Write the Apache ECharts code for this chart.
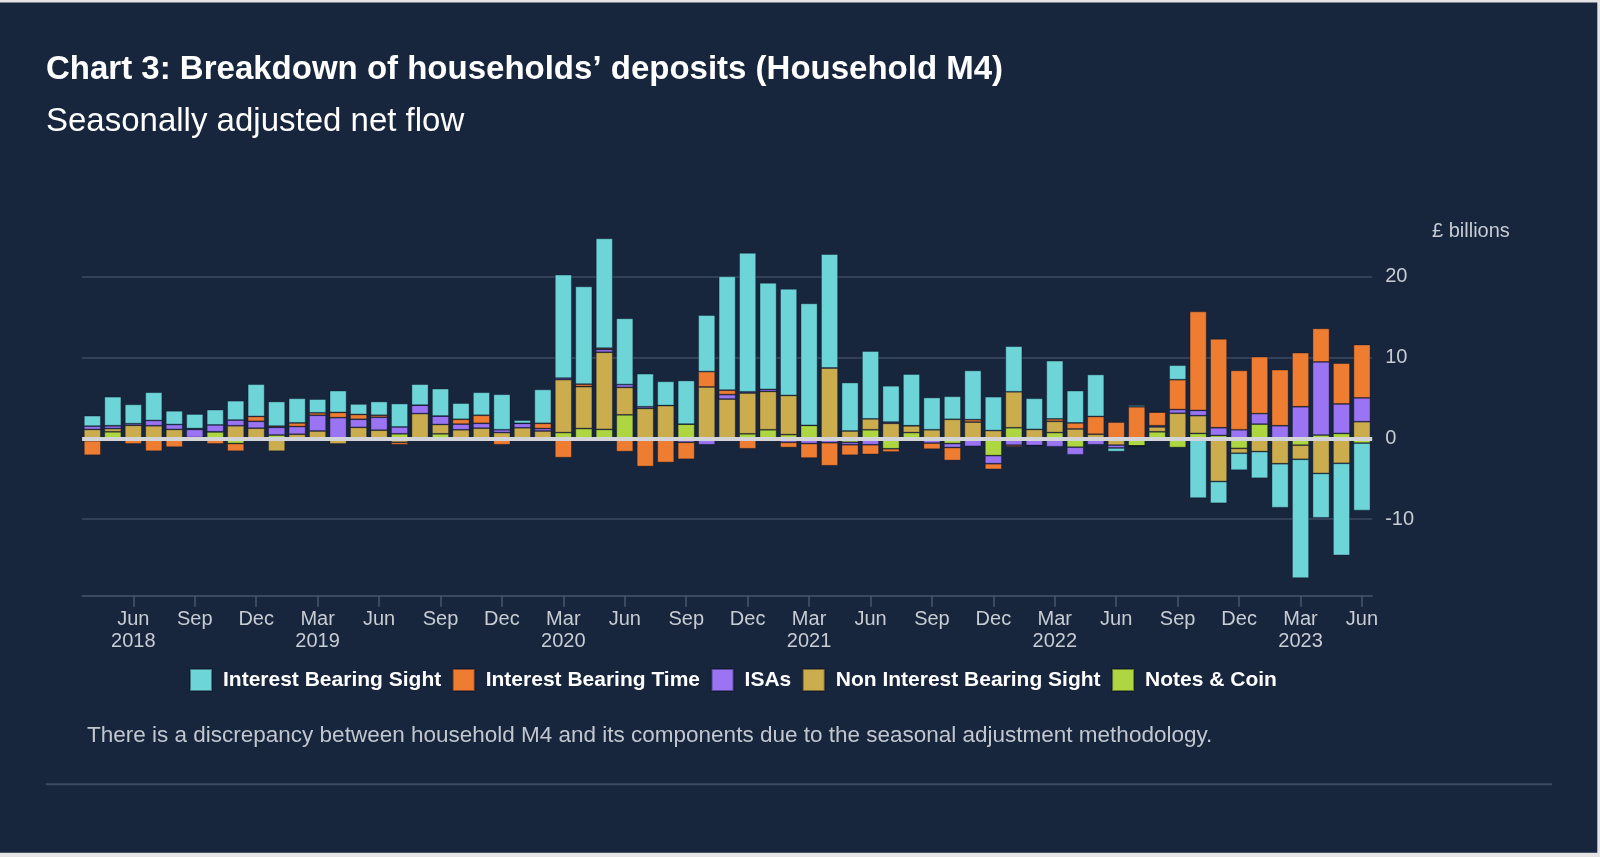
<!DOCTYPE html>
<html>
<head>
<meta charset="utf-8">
<script src="https://cdn.jsdelivr.net/npm/echarts@6/dist/echarts.min.js"></script>
<style>
  html, body { margin: 0; padding: 0; background: #ffffff; }
  #chart { position: absolute; left: 0; top: 0; width: 1600px; height: 857px; }
</style>
</head>
<body>
<div id="chart"></div>
<script>
// ---- categories (monthly, Apr 2018 – Jun 2023) ----
const months = [
  "2018-04","2018-05","2018-06","2018-07","2018-08","2018-09","2018-10","2018-11","2018-12",
  "2019-01","2019-02","2019-03","2019-04","2019-05","2019-06","2019-07","2019-08","2019-09","2019-10","2019-11","2019-12",
  "2020-01","2020-02","2020-03","2020-04","2020-05","2020-06","2020-07","2020-08","2020-09","2020-10","2020-11","2020-12",
  "2021-01","2021-02","2021-03","2021-04","2021-05","2021-06","2021-07","2021-08","2021-09","2021-10","2021-11","2021-12",
  "2022-01","2022-02","2022-03","2022-04","2022-05","2022-06","2022-07","2022-08","2022-09","2022-10","2022-11","2022-12",
  "2023-01","2023-02","2023-03","2023-04","2023-05","2023-06"
];
const monthNames = ["Jan","Feb","Mar","Apr","May","Jun","Jul","Aug","Sep","Oct","Nov","Dec"];

// ---- series values (£ billions) ----
const interestBearingSight = [
  1.3, 3.6, 2.4, 3.5, 1.7, 1.8, 1.9, 2.4, 4.0,
  3.05, 3.05, 1.7, 2.7, 1.3, 1.7, 2.9, 2.6, 3.4, 2.0, 2.85, 4.4,
  0.4, 4.2, 12.8, 12.1, 13.6, 8.2, 4.1, 3.0, 5.4, 7.0, 14.1, 17.2,
  13.2, 13.2, 15.1, 14.1, 6.0, 8.4, 4.5, 6.4, 4.0, 2.85, 6.1, 4.2,
  5.65, 3.85, 7.2, 4.0, 5.2, -0.45, 0.2, 0.0, 1.8, -7.4, -2.7, -2.1,
  -3.3, -5.45, -14.7, -5.5, -11.4, -8.35
];
const interestBearingTime = [
  -1.8, 0.0, -0.7, -1.6, -1.1, 0.1, -0.7, -0.95, 0.6,
  0.15, 0.45, 0.3, 0.65, 0.6, 0.25, -0.3, 0.0, 0.0, 0.6, 1.0, -0.8,
  0.0, 0.65, -2.4, 0.3, 0.15, -1.65, -3.5, -3.0, -2.1, 1.9, 0.55, -1.3,
  -0.4, -0.65, -1.8, -2.85, -1.3, -1.2, -0.4, -0.2, -0.75, -1.6, 0.3, -0.7,
  -0.2, 0.0, 0.3, 0.75, 2.2, 2.0, 3.9, 1.7, 3.7, 12.25, 11.0, 7.35,
  7.05, 6.95, 6.7, 4.15, 5.05, 6.6
];
const isas = [
  0.4, 0.35, 0.2, 0.65, 0.6, 1.0, 0.85, 0.7, 0.85,
  0.95, 0.95, 1.95, 2.55, 1.0, 1.6, 0.85, 1.05, 1.05, 0.7, 0.6, 0.35,
  0.55, 0.3, 0.2, 0.0, 0.35, 0.35, 0.2, 0.0, -0.5, -0.8, 0.55, 0.15,
  0.25, -0.5, -0.65, -0.55, -0.3, -0.8, 0.15, 0.0, -0.6, -0.5, -1.0, -1.0,
  -0.85, -0.9, -1.05, -0.95, -0.8, -0.35, 0.0, 0.15, 0.45, 0.65, 0.95, 1.05,
  1.3, 1.55, 3.9, 9.05, 3.65, 2.95
];
const nonInterestBearingSight = [
  1.1, 0.4, 1.6, 1.55, 1.1, 0.1, 0.0, 1.55, 1.25,
  -1.6, 0.5, 0.9, -0.7, 1.35, 1.0, -0.5, 3.05, 1.15, 1.05, 1.25, 0.7,
  1.3, 0.9, 6.55, 5.2, 9.55, 3.4, 3.7, 4.05, 0.0, 6.35, 4.85, 5.05,
  4.75, 4.85, 0.0, 8.7, 0.9, 1.35, 1.85, 0.85, 1.05, 2.35, 2.0, 0.95,
  4.45, 1.1, 1.4, 1.15, 0.5, -0.85, 0.0, 0.6, 3.1, 2.2, -5.35, -0.6,
  -1.65, -3.15, -1.75, -4.35, -3.1, 2.05
];
const notesAndCoin = [
  -0.3, 0.8, 0.0, 0.0, 0.0, 0.0, 0.8, -0.65, 0.0,
  0.4, 0.0, -0.2, 0.0, -0.3, 0.0, 0.55, 0.0, 0.55, 0.0, -0.3, 0.0,
  0.0, 0.0, 0.7, 1.2, 1.1, 2.9, 0.0, 0.0, 1.75, 0.0, 0.0, 0.55,
  1.05, 0.45, 1.6, 0.0, -0.5, 1.05, -1.3, 0.7, 0.0, -0.65, 0.0, -2.15,
  1.3, 0.0, 0.7, -1.1, 0.0, 0.0, -0.95, 0.8, -1.15, 0.6, 0.35, -1.25,
  1.75, 0.0, -0.85, 0.4, 0.6, -0.6
];

// ---- axis ticks / labels ----
const yTickValues = [-10, 0, 10, 20];
const legendNames = ["Interest Bearing Sight", "Interest Bearing Time", "ISAs", "Non Interest Bearing Sight", "Notes & Coin"];

const FONT = "'Liberation Sans', Arial, Helvetica, sans-serif";
const BG = "#17253d";
const GRID_COLOR = "#3e4a60";
const TEXT_GRAY = "#c8ccd3";

const colors = {
  "Interest Bearing Sight": "#6dd4d7",
  "Interest Bearing Time": "#ef7d31",
  "ISAs": "#9a74f2",
  "Non Interest Bearing Sight": "#cbad4e",
  "Notes & Coin": "#aed641"
};

function barSeries(name, data) {
  return {
    name: name,
    type: "bar",
    stack: "total",
    data: data,
    barWidth: 17,
    itemStyle: { color: colors[name], borderColor: "rgba(10,18,35,0.45)", borderWidth: 0.8 },
    emphasis: { disabled: true }
  };
}

const chart = echarts.init(document.getElementById("chart"), null, { renderer: "canvas" });

const option = {
  animation: false,
  backgroundColor: BG,
  textStyle: { fontFamily: FONT },
  grid: { left: 82.12, right: 227.8, top: 236.3, bottom: 857 - 595.8, containLabel: false },
  legend: {
    data: legendNames,
    left: 189,
    top: 668,
    padding: 0,
    itemWidth: 22,
    itemHeight: 22,
    itemGap: 10.5,
    icon: "rect",
    selectedMode: false,
    textStyle: { color: "#ffffff", fontSize: 21, fontWeight: "bold", fontFamily: FONT, padding: [0, 0, 0, 6] }
  },
  xAxis: {
    type: "category",
    data: months,
    boundaryGap: true,
    axisLine: { show: true, onZero: false, lineStyle: { color: "#4a566c", width: 1.5 } },
    axisTick: {
      show: true,
      alignWithLabel: true,
      length: 11,
      interval: function (i) { return i % 3 === 2; },
      lineStyle: { color: "#4a566c", width: 1.5 }
    },
    axisLabel: {
      interval: function (i) { return i % 3 === 2; },
      margin: 13,
      color: TEXT_GRAY,
      fontSize: 20,
      lineHeight: 22,
      fontFamily: FONT,
      formatter: function (value, index) {
        const parts = value.split("-");
        const m = parseInt(parts[1], 10);
        let s = monthNames[m - 1];
        if (index === 2 || m === 3) s += "\n" + parts[0];
        return s;
      }
    },
    splitLine: { show: false }
  },
  yAxis: {
    type: "value",
    position: "right",
    min: -19.5,
    max: 25,
    axisLine: { show: false },
    axisTick: { show: false },
    axisLabel: {
      customValues: yTickValues,
      margin: 13,
      color: TEXT_GRAY,
      fontSize: 20,
      fontFamily: FONT
    },
    splitLine: {
      show: true,
      showMinLine: false,
      showMaxLine: false,
      lineStyle: { color: GRID_COLOR, width: 1.5 }
    }
  },
  series: [
    barSeries("Notes & Coin", notesAndCoin),
    barSeries("Non Interest Bearing Sight", nonInterestBearingSight),
    barSeries("ISAs", isas),
    barSeries("Interest Bearing Time", interestBearingTime),
    barSeries("Interest Bearing Sight", interestBearingSight),
    {
      name: "zero",
      type: "line",
      data: [],
      z: 10,
      silent: true,
      markLine: {
        silent: true,
        symbol: ["none", "none"],
        label: { show: false },
        lineStyle: { color: "#d2d4d7", width: 4, type: "solid" },
        emphasis: { disabled: true },
        data: [{ yAxis: 0 }]
      }
    }
  ],
  graphic: [
    { type: "text", left: 46, top: 70 - 16.5, style: { text: "Chart 3: Breakdown of households\u2019 deposits (Household M4)", fill: "#ffffff", font: "bold 33px " + FONT } },
    { type: "text", left: 46, top: 122 - 16.5, style: { text: "Seasonally adjusted net flow", fill: "#ffffff", font: "33px " + FONT } },
    { type: "text", left: 1432, top: 231 - 10, style: { text: "\u00a3 billions", fill: TEXT_GRAY, font: "20px " + FONT } },
    { type: "text", left: 87, top: 736 - 11.25, style: { text: "There is a discrepancy between household M4 and its components due to the seasonal adjustment methodology.", fill: "#c2c7cf", font: "22.5px " + FONT } },
    { type: "line", shape: { x1: 46, y1: 784.3, x2: 1552, y2: 784.3 }, style: { stroke: "#3d4a60", lineWidth: 2 } },
    { type: "rect", shape: { x: 0, y: 0, width: 1600, height: 2.5 }, style: { fill: "#e4e4e4" } },
    { type: "rect", shape: { x: 1597.3, y: 0, width: 2.7, height: 857 }, style: { fill: "#e4e4e4" } },
    { type: "rect", shape: { x: 0, y: 852.7, width: 1600, height: 4.3 }, style: { fill: "#e4e4e4" } }
  ]
};

chart.setOption(option);
</script>
</body>
</html>
